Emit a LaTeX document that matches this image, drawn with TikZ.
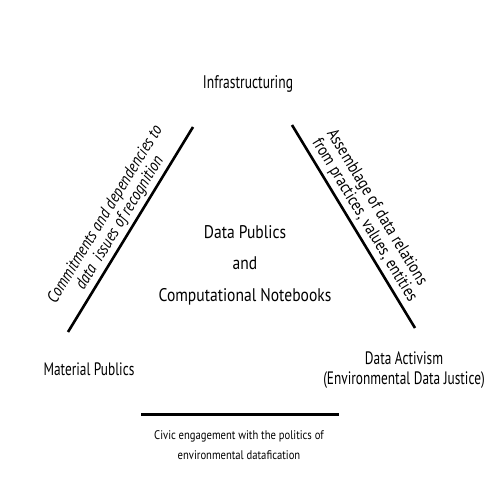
\documentclass[tikz,border=0pt]{standalone}
\usepackage{fontspec}
\setmainfont{PT Sans}[FakeStretch=0.85]
\newfontfamily\narrowfont{PT Sans}[FakeStretch=0.74]
\begin{document}
\begin{tikzpicture}[x=1pt,y=-1pt,
  big/.style={font=\narrowfont\fontsize{18}{20}\selectfont, inner sep=0pt, align=center},
  side/.style={font=\fontsize{17}{17}\selectfont, inner sep=0pt, sloped},
  bar/.style={line width=2.6pt},
  note/.style={font=\fontsize{12.5}{20}\selectfont, inner sep=0pt, align=center}]
\useasboundingbox (0,0) rectangle (500,500);
\fill[white] (0,0) rectangle (500,500);
\node[big, font=\narrowfont\fontsize{18.3}{20}\selectfont] (infra) at (248,84) {Infrastructuring};
\node[big, font=\fontsize{18.3}{31.5}\selectfont] (core) at (245,265) {Data Publics\\and\\Computational Notebooks};
\node[big] (material) at (89,369.5) {Material Publics};
\node[big] (activism) at (404,370) {Data Activism\\(Environmental Data Justice)};
\coordinate (L1) at (68,332);
\coordinate (L2) at (193,127);
\coordinate (R1) at (292,125);
\coordinate (R2) at (415,328);
\coordinate (B1) at (141,414);
\coordinate (B2) at (339,414);
\draw[bar] (L1) -- node[side, align=center, above=3pt, font=\fontsize{17}{17}\selectfont\itshape] (ltxt) {Commitments and dependencies to\\data\ \ issues of recognition} (L2);
\draw[bar] (R1) -- node[side, align=left, pos=0.1, anchor=south west, inner ysep=3.5pt] (rtxt) {Assemblage of data relations\\from practices, values, entities} (R2);
\draw[bar, line width=3pt] (B1) -- (B2);
\node[note] (civic) at (239,445.5) {Civic engagement with the politics of\\environmental datafication};
\end{tikzpicture}
\end{document}
